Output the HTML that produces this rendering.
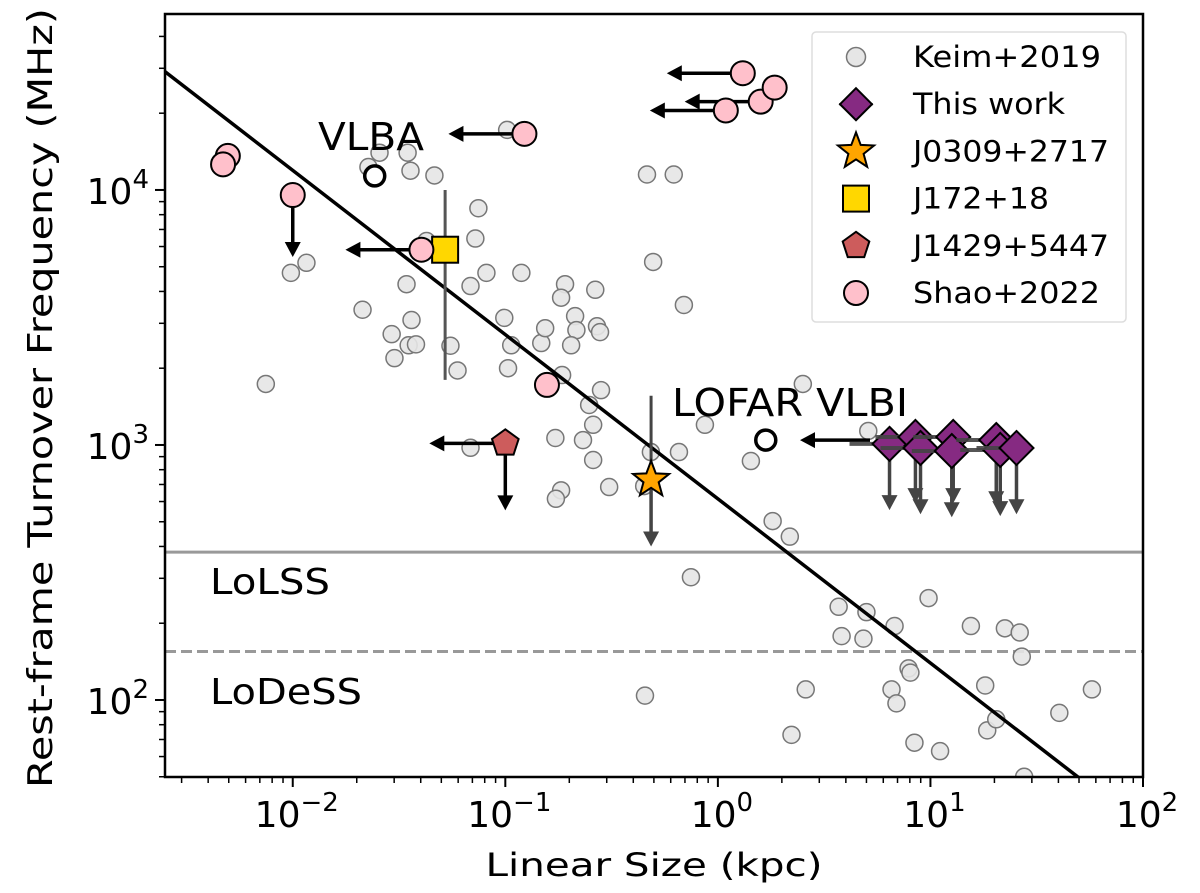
<!DOCTYPE html>
<html><head><meta charset="utf-8"><style>
html,body{margin:0;padding:0;background:#fff;}
svg{display:block;font-family:"DejaVu Sans","Liberation Sans",sans-serif;}
</style></head><body>
<svg id="chart" width="1200" height="893" viewBox="0 0 1200 893"></svg>
<script>
const keimX=[0.0227,0.0256,0.0347,0.0358,0.0464,0.102,0.464,0.62,0.0098,0.0116,0.0213,0.0343,0.0362,0.0292,0.0301,0.0351,0.038,0.0426,0.0552,0.0596,0.0723,0.0747,0.0686,0.0815,0.0989,0.1066,0.103,0.119,0.1476,0.154,0.191,0.183,0.213,0.216,0.204,0.265,0.27,0.279,0.282,0.248,0.259,0.185,0.172,0.232,0.259,0.308,0.183,0.173,0.0686,0.496,0.692,0.45,0.484,0.656,0.869,2.51,1.43,1.81,2.18,0.747,0.00747,3.7,3.82,4.84,5.0,6.78,9.8,15.5,22.4,26.3,26.9,7.89,8.05,6.56,6.92,2.59,8.41,11.1,18.1,18.5,20.4,40.4,57.5,0.454,2.22,27.6,5.1];
const keimY=[12300,14000,14000,11900,11400,17200,11500,11500,4730,5180,3390,4270,3090,2720,2190,2460,2480,6310,2450,1960,6450,8480,4200,4730,3150,2460,2000,4730,2510,2870,4270,3780,3200,2820,2460,4060,2920,2770,1640,1435,1200,1880,1065,1045,873,684,664,615,975,5220,3540,690,938,938,1200,1735,865,503,437,303,1735,232,178,174,221,195,251,195,191,184,148,133,128,110,97,110,68,63,114,76,84,89,110,104,73,50,1135];
const shaoX=[0.00495,0.0047,0.01,0.0403,0.157,0.123,1.31,1.59,1.85,1.09];
const shaoY=[13600,12600,9550,5830,1720,16600,28700,22200,25200,20500];
const shaoLeftArrow=[false,false,false,true,false,true,true,true,false,true];
const shaoDownArrow=[false,false,true,false,false,false,false,false,false,false];
const workX=[6.42,8.5,8.98,12.8,12.6,20.4,21.3,25.4];
const workY=[1010,1075,973,1075,947,1046,956,973];
const starX=[0.485], starY=[730], starErrHi=[1560], starArrowTo=[400];
const squareX=[0.0521], squareY=[5830], squareErrLo=[1800], squareErrHi=[10000];
const pentX=[0.1], pentY=[1015];
const fitNorm=615, fitSlope=-0.644;
const lolss=380, lodess=155;
const xTickExp=[-2,-1,0,1,2];
const yTickExp=[2,3,4];

const L=165,R=1143,T=14,B=777;
const lx0=-2.601,lx1=2,ly0=1.698,ly1=4.690;
const X=v=>L+(Math.log10(v)-lx0)/(lx1-lx0)*(R-L);
const Y=v=>B-(Math.log10(v)-ly0)/(ly1-ly0)*(B-T);
const svg=document.getElementById('chart');
const NS='http://www.w3.org/2000/svg';
function mk(tag,attrs,parent){const e=document.createElementNS(NS,tag);for(const k in attrs)e.setAttribute(k,attrs[k]);(parent||svg).appendChild(e);return e;}
function arrowLeft(x,y,len,col,g){mk('line',{x1:x,y1:y,x2:x-len+10,y2:y,stroke:col,'stroke-width':3.5},g);mk('polygon',{points:`${x-len},${y} ${x-len+15},${y-8} ${x-len+15},${y+8}`,fill:col},g);}
function arrowDown(x,y,len,col,g){mk('line',{x1:x,y1:y,x2:x,y2:y+len-10,stroke:col,'stroke-width':3.5},g);mk('polygon',{points:`${x},${y+len} ${x-8},${y+len-15} ${x+8},${y+len-15}`,fill:col},g);}
const SG='spacingAndGlyphs';

const clip=mk('clipPath',{id:'cp'});mk('rect',{x:L,y:T,width:R-L,height:B-T},clip);
const plot=mk('g',{'clip-path':'url(#cp)'});



let e=mk('line',{x1:L,x2:R,y1:Y(lolss),y2:Y(lolss),stroke:'#999','stroke-width':3},plot);


e=mk('line',{x1:L,x2:R,y1:Y(lodess),y2:Y(lodess),stroke:'#999','stroke-width':3,'stroke-dasharray':'11 5'},plot);



keimX.forEach((x,i)=>{const c=mk('circle',{cx:X(x),cy:Y(keimY[i]),r:8.5,fill:'#e6e6e6',stroke:'#777','stroke-width':1.5,'fill-opacity':0.9},plot);

});

const fx0=Math.pow(10,lx0),fx1=Math.pow(10,lx1);
e=mk('line',{x1:X(fx0),y1:Y(fitNorm*Math.pow(fx0,fitSlope)),x2:X(fx1),y2:Y(fitNorm*Math.pow(fx1,fitSlope)),stroke:'#000','stroke-width':3.5},plot);



workX.forEach((x,i)=>{const g=mk('g',{},plot);


const cx=X(x),cy=Y(workY[i]);
mk('line',{x1:cx-40,x2:cx+12,y1:cy,y2:cy,stroke:'#444','stroke-width':4,'stroke-opacity':0.9},g);
arrowDown(cx,cy,Y(workY[i]*0.55)-cy,'#444',g);
mk('polygon',{points:`${cx},${cy-17} ${cx+17},${cy} ${cx},${cy+17} ${cx-17},${cy}`,fill:'#862a82',stroke:'#000','stroke-width':2},g);});

const lv=mk('g',{},plot);


arrowLeft(870,Y(1045),70,'#000',lv);
mk('circle',{cx:X(1.68),cy:Y(1045),r:10,fill:'#fff',stroke:'#000','stroke-width':3.5},lv);
e=mk('text',{x:672,y:416,'font-size':38,textLength:236,lengthAdjust:SG},lv);e.textContent='LOFAR VLBI';
const vb=mk('g',{},plot);


mk('circle',{cx:X(0.0243),cy:Y(11350),r:10,fill:'#fff',stroke:'#000','stroke-width':3.5},vb);
e=mk('text',{x:318,y:150,'font-size':38,textLength:106,lengthAdjust:SG},vb);e.textContent='VLBA';

starX.forEach((x,i)=>{const g=mk('g',{},plot);


const cx=X(x),cy=Y(starY[i]);
mk('line',{x1:cx,x2:cx,y1:Y(starErrHi[i]),y2:cy,stroke:'#444','stroke-width':3},g);
arrowDown(cx,cy,Y(starArrowTo[i])-cy,'#444',g);
let p='';for(let k=0;k<10;k++){const r=k%2?8:19,a=-Math.PI/2+k*Math.PI/5;p+=`${cx+r*Math.cos(a)},${cy+r*Math.sin(a)} `;}
mk('polygon',{points:p,fill:'#ffa500',stroke:'#000','stroke-width':2},g);});

squareX.forEach((x,i)=>{const g=mk('g',{},plot);


const cx=X(x),cy=Y(squareY[i]);
mk('line',{x1:cx,x2:cx,y1:Y(squareErrHi[i]),y2:Y(squareErrLo[i]),stroke:'#555','stroke-width':3},g);
mk('rect',{x:cx-13,y:cy-13,width:26,height:26,fill:'#ffd700',stroke:'#000','stroke-width':2},g);});

pentX.forEach((x,i)=>{const g=mk('g',{},plot);


const cx=X(x),cy=Y(pentY[i]);
arrowLeft(cx,cy,76,'#000',g);arrowDown(cx,cy,67,'#000',g);
let p='';for(let k=0;k<5;k++){const a=-Math.PI/2+k*2*Math.PI/5;p+=`${cx+14*Math.cos(a)},${cy+14*Math.sin(a)} `;}
mk('polygon',{points:p,fill:'#cd5c5c',stroke:'#000','stroke-width':2},g);});

shaoX.forEach((x,i)=>{const g=mk('g',{},plot);


const cx=X(x),cy=Y(shaoY[i]);
if(shaoLeftArrow[i])arrowLeft(cx,cy,76,'#000',g);
if(shaoDownArrow[i])arrowDown(cx,cy,62,'#000',g);
mk('circle',{cx:cx,cy:cy,r:12,fill:'#ffc0cb',stroke:'#000','stroke-width':2},g);});

e=mk('text',{x:210,y:594,'font-size':36,textLength:120,lengthAdjust:SG});e.textContent='LoLSS';


e=mk('text',{x:210,y:704,'font-size':36,textLength:152,lengthAdjust:SG});e.textContent='LoDeSS';



e=mk('rect',{x:L,y:T,width:R-L,height:B-T,fill:'none',stroke:'#000','stroke-width':2.5});



const ax=mk('g',{});


for(let d=-3;d<=2;d++)for(let m=1;m<10;m++){const v=m*Math.pow(10,d);const lv=Math.log10(v);if(lv<lx0||lv>lx1+1e-9)continue;const xx=X(v);mk('line',{x1:xx,x2:xx,y1:B,y2:B+(m===1?10:6),stroke:'#000','stroke-width':m===1?2:1.5},ax);}
xTickExp.forEach(p=>{const t=mk('text',{x:X(Math.pow(10,p))+4,y:B+50,'font-size':36,'text-anchor':'middle'},ax);t.textContent='10';const s=mk('tspan',{dy:-16,'font-size':26},t);s.textContent=(p<0?'\u2212':'')+Math.abs(p);});
e=mk('text',{x:654,y:876,'font-size':32,'text-anchor':'middle',textLength:337,lengthAdjust:SG},ax);e.textContent='Linear Size (kpc)';


const ay=mk('g',{});


for(let d=1;d<=4;d++)for(let m=1;m<10;m++){const v=m*Math.pow(10,d);const lv=Math.log10(v);if(lv<ly0||lv>ly1)continue;const yy=Y(v);mk('line',{x1:L,x2:L-(m===1?10:6),y1:yy,y2:yy,stroke:'#000','stroke-width':m===1?2:1.5},ay);}
yTickExp.forEach(p=>{const t=mk('text',{x:L-16,y:Y(Math.pow(10,p))+14,'font-size':36,'text-anchor':'end'},ay);t.textContent='10';const s=mk('tspan',{dy:-16,'font-size':26},t);s.textContent=p;});
e=mk('text',{x:52,y:398,'font-size':34,'text-anchor':'middle',textLength:780,lengthAdjust:SG,transform:'rotate(-90 52 398)'},ay);e.textContent='Rest-frame Turnover Frequency (MHz)';



const lg=mk('g',{});


mk('rect',{x:812,y:32,width:314,height:290,rx:4,fill:'#fff','fill-opacity':0.85,stroke:'#ddd','stroke-width':1.5},lg);
const labels=['Keim+2019','This work','J0309+2717','J172+18','J1429+5447','Shao+2022'];
const lens=[188,152,196,136,196,187];
labels.forEach((t,i)=>{const y=57+i*47.2;const g=mk('g',{},lg);


const cx=856;
if(i===0)mk('circle',{cx:cx,cy:y,r:9.5,fill:'#e6e6e6',stroke:'#777','stroke-width':1.5},g);
if(i===1){mk('line',{x1:cx-17,x2:cx+17,y1:y,y2:y,stroke:'#444','stroke-width':2},g);mk('polygon',{points:`${cx},${y-16} ${cx+16},${y} ${cx},${y+16} ${cx-16},${y}`,fill:'#862a82',stroke:'#000','stroke-width':2},g);}
if(i===2){let p='';for(let k=0;k<10;k++){const r=k%2?8:19,a=-Math.PI/2+k*Math.PI/5;p+=`${cx+r*Math.cos(a)},${y+r*Math.sin(a)} `;}mk('polygon',{points:p,fill:'#ffa500',stroke:'#000','stroke-width':2},g);}
if(i===3)mk('rect',{x:cx-13,y:y-13,width:26,height:26,fill:'#ffd700',stroke:'#000','stroke-width':2},g);
if(i===4){let p='';for(let k=0;k<5;k++){const a=-Math.PI/2+k*2*Math.PI/5;p+=`${cx+14*Math.cos(a)},${y+14*Math.sin(a)} `;}mk('polygon',{points:p,fill:'#cd5c5c',stroke:'#000','stroke-width':2},g);}
if(i===5)mk('circle',{cx:cx,cy:y,r:12,fill:'#ffc0cb',stroke:'#000','stroke-width':2},g);
const tx=mk('text',{x:913,y:y+10,'font-size':29,textLength:lens[i],lengthAdjust:SG},g);tx.textContent=t;});
</script>
</body></html>
